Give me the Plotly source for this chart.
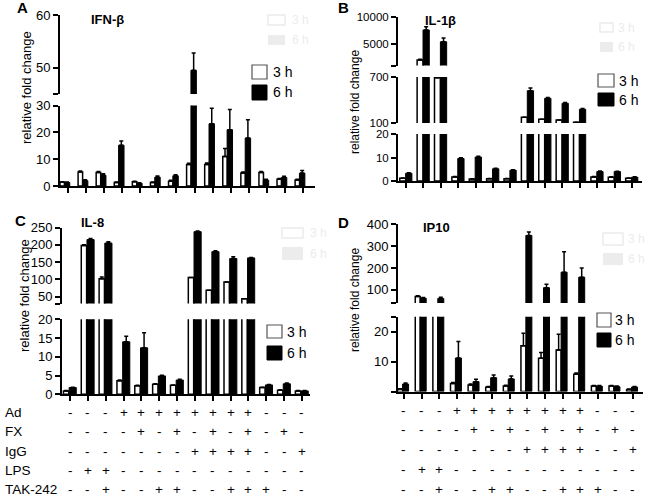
import plotly.graph_objects as go

# ---------------- data ----------------
treatments = ["Ad", "FX", "IgG", "LPS", "TAK-242"]
ad  = ["-", "-", "-", "+", "+", "+", "+", "+", "+", "+", "+", "-", "-", "-"]
fx  = ["-", "-", "-", "-", "+", "-", "+", "-", "+", "-", "+", "-", "+", "-"]
igg = ["-", "-", "-", "-", "-", "-", "-", "+", "+", "+", "+", "-", "-", "+"]
lps = ["-", "+", "+", "-", "-", "-", "-", "-", "-", "-", "-", "-", "-", "-"]
tak = ["-", "-", "+", "-", "-", "+", "+", "-", "-", "+", "+", "+", "-", "-"]
sign_rows = [ad, fx, igg, lps, tak]
conditions = ["".join(col) for col in zip(ad, fx, igg, lps, tak)]
timepoints = ["3 h", "6 h"]

# IFN-beta
ifnb_3h     = [1.5, 5.2, 5.0, 1.3, 1.6, 1.3, 1.8, 8.0, 8.0, 11.0, 4.8, 5.0, 2.5, 2.2]
ifnb_3h_err = [0.1, 0.4, 0.4, 0.2, 0.2, 0.2, 0.3, 0.5, 0.6, 3.0, 0.4, 0.4, 0.3, 0.3]
ifnb_6h     = [1.3, 2.0, 4.0, 15.2, 1.0, 3.3, 3.8, 49.5, 23.2, 21.0, 17.9, 2.2, 3.2, 4.8]
ifnb_6h_err = [0.2, 0.3, 0.6, 1.6, 0.2, 0.4, 0.4, 3.3, 5.8, 7.5, 6.8, 0.3, 0.4, 1.0]

# IL-1beta
il1b_3h     = [1.2, 2000, 690, 1.7, 0.9, 1.0, 1.0, 174, 148, 139, 109, 1.7, 1.6, 1.2]
il1b_3h_err = [0.1, 150, 0, 0.2, 0.1, 0.1, 0.1, 0, 0, 0, 0, 0.2, 0.2, 0.1]
il1b_6h     = [3.3, 7600, 5400, 9.6, 10.2, 5.2, 4.6, 521, 422, 357, 279, 4.0, 4.0, 1.6]
il1b_6h_err = [0.2, 600, 700, 0.3, 0.3, 0.2, 0.2, 35, 12, 10, 10, 0.3, 0.2, 0.2]

# IL-8
il8_3h     = [0.9, 198, 102, 3.6, 2.3, 2.7, 2.4, 105, 68, 92, 44, 1.8, 1.1, 0.9]
il8_3h_err = [0.1, 2, 5, 0.2, 0.1, 0.1, 0.1, 0, 0, 0, 0, 0.1, 0.1, 0.1]
il8_6h     = [1.8, 215, 205, 14.0, 12.4, 4.9, 3.8, 238, 180, 160, 162, 2.5, 2.8, 0.9]
il8_6h_err = [0.1, 3, 4, 1.5, 4.0, 0.2, 0.2, 2, 3, 5, 1, 0.1, 0.2, 0.1]

# IP10
ip10_3h     = [0.8, 70, 35, 2.7, 2.2, 1.4, 1.8, 15.3, 11.1, 13.9, 5.8, 1.8, 1.8, 0.7]
ip10_3h_err = [0.1, 3, 0, 0.3, 0.3, 0.3, 0.3, 4.2, 1.9, 5.2, 0.4, 0.2, 0.2, 0.1]
ip10_6h     = [2.5, 62, 61, 11.2, 3.3, 4.6, 4.2, 349, 110, 181, 158, 1.8, 1.6, 1.5]
ip10_6h_err = [0.3, 3, 5, 5.5, 0.8, 0.9, 1.0, 16, 16, 94, 42, 0.2, 0.2, 0.2]

# ---------------- layout helpers (pixel geometry) ----------------
W, H = 650, 498
def fx_(p): return p / W
def fy_(p): return 1 - p / H

FONT = "Liberation Sans, Arial, sans-serif"

panels = [
    dict(letter="A", letter_xy=(22, 8), title="IFN-β", title_xy=(107, 19),
         x0=60, x1=315, xr=[-0.44, 13.66], fs=13,
         ylab_xy=(27, 88), ylab_fs=13,
         data=(ifnb_3h, ifnb_3h_err, ifnb_6h, ifnb_6h_err),
         off=(-0.44, 0.25, -0.20, 0.30),
         segments=[(15, 94, [45, 60], [45, 50, 60], ["", "50", "60"]),
                   (105.5, 186, [0, 30], [0, 10, 20, 30], ["0", "10", "20", "30"])],
         legend=(252, 267, (65, 79), (85, 100), 271),
         ghost=(268, 285, (15, 25), (35, 45), 290)),
    dict(letter="B", letter_xy=(343, 8), title="IL-1β", title_xy=(440, 20),
         x0=398, x1=642, xr=[-0.46, 13.58], fs=11.5,
         ylab_xy=(355, 102), ylab_fs=12,
         data=(il1b_3h, il1b_3h_err, il1b_6h, il1b_6h_err),
         off=(-0.36, 0.34, -0.02, 0.36),
         segments=[(17, 65.5, [1000, 10000], [1000, 5000, 10000], ["", "5000", "10000"]),
                   (77, 123, [100, 700], [100, 700], ["100", "700"]),
                   (134, 181, [0, 20], [0, 10, 20], ["0", "10", "20"])],
         legend=(598, 614, (74, 87), (93, 106), 617),
         ghost=(600, 613, (23, 32), (42, 52), 616)),
    dict(letter="C", letter_xy=(20, 221), title="IL-8", title_xy=(92, 222),
         x0=62, x1=310, xr=[-0.45, 13.45], fs=13,
         ylab_xy=(24, 296), ylab_fs=13,
         data=(il8_3h, il8_3h_err, il8_6h, il8_6h_err),
         off=(-0.37, 0.30, -0.05, 0.40),
         segments=[(227.5, 303.5, [30, 250], [30, 50, 100, 150, 200, 250],
                    ["", "50", "100", "150", "200", "250"]),
                   (319.3, 394.3, [0, 20], [0, 5, 10, 15, 20], ["0", "5", "10", "15", "20"])],
         legend=(267, 282, (325, 338), (346, 360), 285),
         ghost=(282, 303, (228, 238), (247, 260), 308)),
    dict(letter="D", letter_xy=(343, 222), title="IP10", title_xy=(436, 228),
         x0=398, x1=643, xr=[-0.34, 13.57], fs=13,
         ylab_xy=(355, 300), ylab_fs=12,
         data=(ip10_3h, ip10_3h_err, ip10_6h, ip10_6h_err),
         off=(-0.36, 0.28, -0.08, 0.34),
         segments=[(224.3, 303, [40, 400], [40, 100, 200, 300, 400], ["", "100", "200", "300", "400"]),
                   (316.7, 391.5, [0, 25], [0, 10, 20, 25], ["", "10", "20", ""])],
         legend=(597, 611, (313, 327), (333, 347), 613),
         ghost=(603, 623, (233, 245), (253, 265), 626)),
]


def ann(x, y, text, size, color="black", xref="paper", xanchor="center", **kw):
    return dict(x=x, y=y, xref=xref, yref="paper", text=text, showarrow=False,
                xanchor=xanchor, yanchor="middle",
                font=dict(size=size, color=color, family=FONT), **kw)


fig = go.Figure()
axes = {}
shapes = []
annotations = []
bottom_xrefs = []
n = 0
for p in panels:
    v3, e3, v6, e6 = p["data"]
    nseg = len(p["segments"])
    for si, (top, bot, rng, tv, tt) in enumerate(p["segments"]):
        n += 1
        xk = "xaxis" if n == 1 else f"xaxis{n}"
        yk = "yaxis" if n == 1 else f"yaxis{n}"
        xr_ = "x" if n == 1 else f"x{n}"
        yr_ = "y" if n == 1 else f"y{n}"
        is_bottom = si == nseg - 1
        if is_bottom:
            bottom_xrefs.append(xr_)
        axes[xk] = dict(domain=[fx_(p["x0"]), fx_(p["x1"])], range=p["xr"],
                        type="category", categoryorder="array", categoryarray=conditions,
                        anchor=yr_, showline=is_bottom, linecolor="black", linewidth=2,
                        ticks="outside" if is_bottom else "", ticklen=5, tickwidth=2,
                        tickcolor="black", showticklabels=False, showgrid=False,
                        zeroline=False, fixedrange=True, automargin=False)
        axes[yk] = dict(domain=[fy_(bot), fy_(top)], range=rng, anchor=xr_,
                        showline=True, linecolor="black", linewidth=2,
                        ticks="outside", ticklen=5, tickwidth=2, tickcolor="black",
                        tickvals=tv, ticktext=tt,
                        tickfont=dict(size=p["fs"], color="black", family=FONT),
                        showgrid=False, zeroline=False, fixedrange=True, automargin=False)
        o3, w3, o6, w6 = p["off"]
        fig.add_trace(go.Bar(
            x=conditions, y=v3, xaxis=xr_, yaxis=yr_, name=timepoints[0],
            offset=o3, width=w3, showlegend=False,
            marker=dict(color="white", line=dict(color="black", width=1.5)),
            error_y=dict(type="data", symmetric=False, array=e3,
                         arrayminus=[0] * len(e3), color="black", thickness=1.5, width=2)))
        fig.add_trace(go.Bar(
            x=conditions, y=v6, xaxis=xr_, yaxis=yr_, name=timepoints[1],
            offset=o6, width=w6, showlegend=False,
            marker=dict(color="black", line=dict(color="black", width=1)),
            error_y=dict(type="data", symmetric=False, array=e6,
                         arrayminus=[0] * len(e6), color="black", thickness=1.5, width=2)))

    lx, ly = p["letter_xy"]
    annotations.append(ann(fx_(lx), fy_(ly), f"<b>{p['letter']}</b>", 15))
    tx, ty = p["title_xy"]
    annotations.append(ann(fx_(tx), fy_(ty), f"<b>{p['title']}</b>", 13))
    yx, yy = p["ylab_xy"]
    annotations.append(ann(fx_(yx), fy_(yy), "relative fold change", p["ylab_fs"],
                           textangle=-90))

    # ghost legend (faint)
    gx0, gx1, (ga0, ga1), (gb0, gb1), gtx = p["ghost"]
    ghost_c = "#ececec"
    shapes.append(dict(type="rect", xref="paper", yref="paper", x0=fx_(gx0), x1=fx_(gx1),
                       y0=fy_(ga1), y1=fy_(ga0), line=dict(color=ghost_c, width=1.5),
                       fillcolor="white"))
    shapes.append(dict(type="rect", xref="paper", yref="paper", x0=fx_(gx0), x1=fx_(gx1),
                       y0=fy_(gb1), y1=fy_(gb0), line=dict(color=ghost_c, width=0),
                       fillcolor=ghost_c))
    for (a0, a1), lab in zip([(ga0, ga1), (gb0, gb1)], timepoints):
        annotations.append(ann(fx_(gtx), fy_((a0 + a1) / 2), lab, 12, color=ghost_c,
                               xanchor="left"))

    # legend
    lx0, lx1, (la0, la1), (lb0, lb1), ltx = p["legend"]
    shapes.append(dict(type="rect", xref="paper", yref="paper", x0=fx_(lx0), x1=fx_(lx1),
                       y0=fy_(la1), y1=fy_(la0), line=dict(color="#555555", width=1.2),
                       fillcolor="white"))
    shapes.append(dict(type="rect", xref="paper", yref="paper", x0=fx_(lx0), x1=fx_(lx1),
                       y0=fy_(lb1), y1=fy_(lb0), line=dict(color="black", width=1),
                       fillcolor="black"))
    for (a0, a1), lab in zip([(la0, la1), (lb0, lb1)], timepoints):
        annotations.append(ann(fx_(ltx), fy_((a0 + a1) / 2), lab, 14, xanchor="left"))

# treatment table under panels C and D
row_y_left = [412.5, 431.5, 451, 470.5, 489.5]
row_y_right = [410.5, 429, 449, 469, 489]
for name, yy in zip(treatments, row_y_left):
    annotations.append(ann(fx_(3), fy_(yy), name, 13.5, xanchor="left"))
for xref, rows_y in zip(bottom_xrefs[2:4], [row_y_left, row_y_right]):
    for row, yy in zip(sign_rows, rows_y):
        for c, s in zip(conditions, row):
            annotations.append(ann(c, fy_(yy), s, 13.5, xref=xref))

fig.update_layout(template="none", width=W, height=H, margin=dict(l=0, r=0, t=0, b=0, pad=0),
                  autosize=False,
                  paper_bgcolor="white", plot_bgcolor="white",
                  font=dict(family=FONT, color="black"),
                  barmode="overlay", showlegend=False,
                  shapes=shapes, annotations=annotations, **axes)
fig.write_html("out.html",
               config={"displayModeBar": False},
               post_script="document.body.style.margin='0';"
                           "document.body.style.overflow='hidden';")
